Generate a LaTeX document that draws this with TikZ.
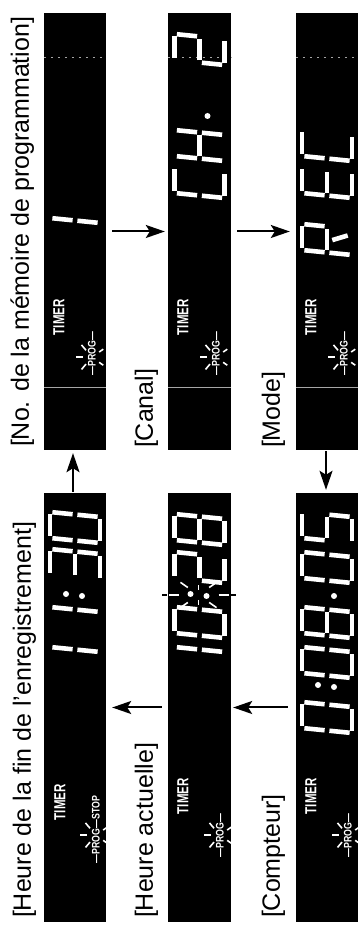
\documentclass[tikz,border=0pt]{standalone}
\usepackage{fontspec}
\setmainfont{Liberation Sans}
\usetikzlibrary{arrows.meta, positioning, calc}

\tikzstyle{panel} = [rectangle, fill=black, inner sep=0pt, minimum height=62pt]
\tikzstyle{caption} = [anchor=base west, inner sep=0pt, font=\fontsize{25}{30}\selectfont]
\tikzstyle{timer} = [text=white, inner sep=0pt, font=\bfseries\fontsize{16}{16}\selectfont, xscale=0.72]
\tikzstyle{prog} = [text=white, inner sep=0pt, anchor=west, font=\bfseries\fontsize{11}{11}\selectfont, xscale=0.8]
\tikzstyle{seg} = [draw=white, line width=4.6pt, shorten <=2.4pt, shorten >=2.4pt]
\tikzstyle{ray} = [draw=white, line width=1.6pt]
\tikzstyle{line} = [draw, -{Stealth[length=19pt,width=13pt,inset=4pt]}, line width=2pt]

% one seven-segment cell: x, y of its lower left corner, lit segments
\makeatletter
\newcommand{\segdigit}[3]{%
  \foreach \n/\xa/\ya/\xb/\yb in {a/0/50/26/50, b/26/50/26/25, c/26/25/26/0, d/0/0/26/0,
      e/0/0/0/25, f/0/25/0/50, g/0/25/26/25, r/12/22/20/2}{%
    \edef\seg@test{\noexpand\in@{\n}{#3}}\seg@test
    \ifin@ \draw[seg] ({#1+\xa+0.1*\ya},{#2+\ya}) -- ({#1+\xb+0.1*\yb},{#2+\yb}); \fi}}
\makeatother

% blinking marks round a point
\newcommand{\proglamp}[1]{%
  \foreach \a in {40,90,140} \draw[ray] ($(#1)+(\a:9)$) -- ($(#1)+(\a:16)$);
  \foreach \a in {235,305} \draw[ray] ($(#1)+(\a:9)$) -- ($(#1)+(\a:14)$);}

\begin{document}
\begin{tikzpicture}[x=1pt, y=1pt, rotate=90, every node/.style={transform shape}]
        \useasboundingbox (0,-357) rectangle (932,0);

        % Displays
        \node [panel, minimum width=437pt] (mem) at (700.5,-75) {};
        \node [panel, minimum width=437pt, minimum height=63pt] (canal) at (700.5,-199.5) {};
        \node [panel, minimum width=437pt, minimum height=64pt] (mode) at (700.5,-328) {};
        \node [panel, minimum width=429pt] (fin) at (224.5,-75) {};
        \node [panel, minimum width=429pt, minimum height=63pt] (actuelle) at (224.5,-199.5) {};
        \node [panel, minimum width=429pt, minimum height=64pt] (compteur) at (224.5,-328) {};

        \foreach \p in {mem,canal,mode} {
            \draw [gray!70, line width=0.8pt] ($(\p.north west)+(63,0)$) -- ($(\p.south west)+(63,0)$);
            \draw [gray!70, line width=0.8pt, dash pattern=on 2pt off 5pt] ($(\p.north west)+(393,0)$) -- ($(\p.south west)+(393,0)$);
        }

        % Labels
        \node [caption] (memlbl) at ($(mem.north west)+(3,15)$) {[No. de la mémoire de programmation]};
        \node [caption] (canallbl) at ($(canal.north west)+(2,15)$) {[Canal]};
        \node [caption] (modelbl) at ($(mode.north west)+(2,16)$) {[Mode]};
        \node [caption] (finlbl) at ($(fin.north west)+(4,13)$) {[Heure de la fin de l’enregistrement]};
        \node [caption] (actuellelbl) at ($(actuelle.north west)+(4,15)$) {[Heure actuelle]};
        \node [caption] (compteurlbl) at ($(compteur.north west)+(4,16)$) {[Compteur]};

        % TIMER and PROG
        \foreach \p in {mem,canal,mode} {
            \node [timer] (\p-timer) at ($(\p.north west)+(133,-15)$) {TIMER};
            \node [prog] (\p-prog) at ($(\p.north west)+(75,-48)$) {\textemdash PROG\textemdash};
            \coordinate (\p-lamp) at ($(\p-prog.west)+(18,0)$);
            \proglamp{\p-lamp}
        }
        \foreach \p in {actuelle,compteur} {
            \node [timer] (\p-timer) at ($(\p.north west)+(126,-15)$) {TIMER};
            \node [prog] (\p-prog) at ($(\p.north west)+(65,-52)$) {\textemdash PROG\textemdash};
            \coordinate (\p-lamp) at ($(\p-prog.west)+(22,0)$);
            \proglamp{\p-lamp}
        }
        \node [timer] (fin-timer) at ($(fin.north west)+(120,-16)$) {TIMER};
        \node [prog] (fin-prog) at ($(fin.north west)+(59,-52)$) {\textemdash PROG\textemdash STOP};
        \coordinate (fin-lamp) at ($(fin-prog.west)+(28,0)$);
        \proglamp{fin-lamp}

        % Digits
        \segdigit{683}{-100}{bc}
        \segdigit{734}{-224.5}{adef}
        \segdigit{771}{-224.5}{bcefg}
        \fill [white] (816,-207.5) circle (3);
        \segdigit{867}{-224.5}{abdeg}
        \segdigit{677}{-352}{abefgr}
        \segdigit{734}{-352}{adefg}
        \segdigit{771}{-352}{adef}

        \segdigit{254}{-100}{bc}
        \segdigit{294}{-100}{bc}
        \fill [white] (338,-66) circle (3) (336,-82) circle (3);
        \segdigit{352}{-100}{abcdg}
        \segdigit{389}{-100}{abcdef}

        \segdigit{254}{-224.5}{bc}
        \segdigit{294}{-224.5}{abcdef}
        \coordinate (blink) at (337,-198.5);
        \fill [white] (338,-190.5) circle (3) (336,-206.5) circle (3);
        \foreach \a in {55,125,235,305} \draw [ray] ($(blink)+(\a:13)$) -- ($(blink)+(\a:22)$);
        \foreach \a in {0,180} \draw [ray] ($(blink)+(\a:5)$) -- ($(blink)+(\a:10)$);
        \foreach \a in {90,270} \draw [ray] ($(blink)+(\a:20)$) -- ($(blink)+(\a:30)$);
        \foreach \a in {90,270} \draw [line width=1.4pt] ($(blink)+(\a:32)$) -- ($(blink)+(\a:37)$);
        \segdigit{349}{-224.5}{abdeg}
        \segdigit{387}{-224.5}{abcdefg}

        \segdigit{199}{-352}{abcdef}
        \fill [white] (247,-318) circle (3) (245,-334) circle (3);
        \segdigit{254}{-352}{abcdef}
        \segdigit{294}{-352}{abcdefg}
        \fill [white] (336,-334) circle (3);
        \segdigit{349}{-352}{abcdef}
        \segdigit{389}{-352}{acdfg}

        % Paths
        \draw [line, shorten <=6pt, shorten >=3pt] (mem) -- (canal);
        \draw [line, shorten <=6pt, shorten >=6pt] (canal) -- (mode);
        \draw [line, shorten <=1pt, shorten >=3pt] (mode.west |- 0,-326) -- (compteur.east |- 0,-326);
        \draw [line, shorten <=8pt, shorten >=2pt] (compteur) -- (actuelle);
        \draw [line, shorten <=6pt, shorten >=6pt] (actuelle) -- (fin);
        \draw [line, shorten <=1pt, shorten >=3pt] (fin.east |- 0,-73) -- (mem.west |- 0,-73);
\end{tikzpicture}
\end{document}
